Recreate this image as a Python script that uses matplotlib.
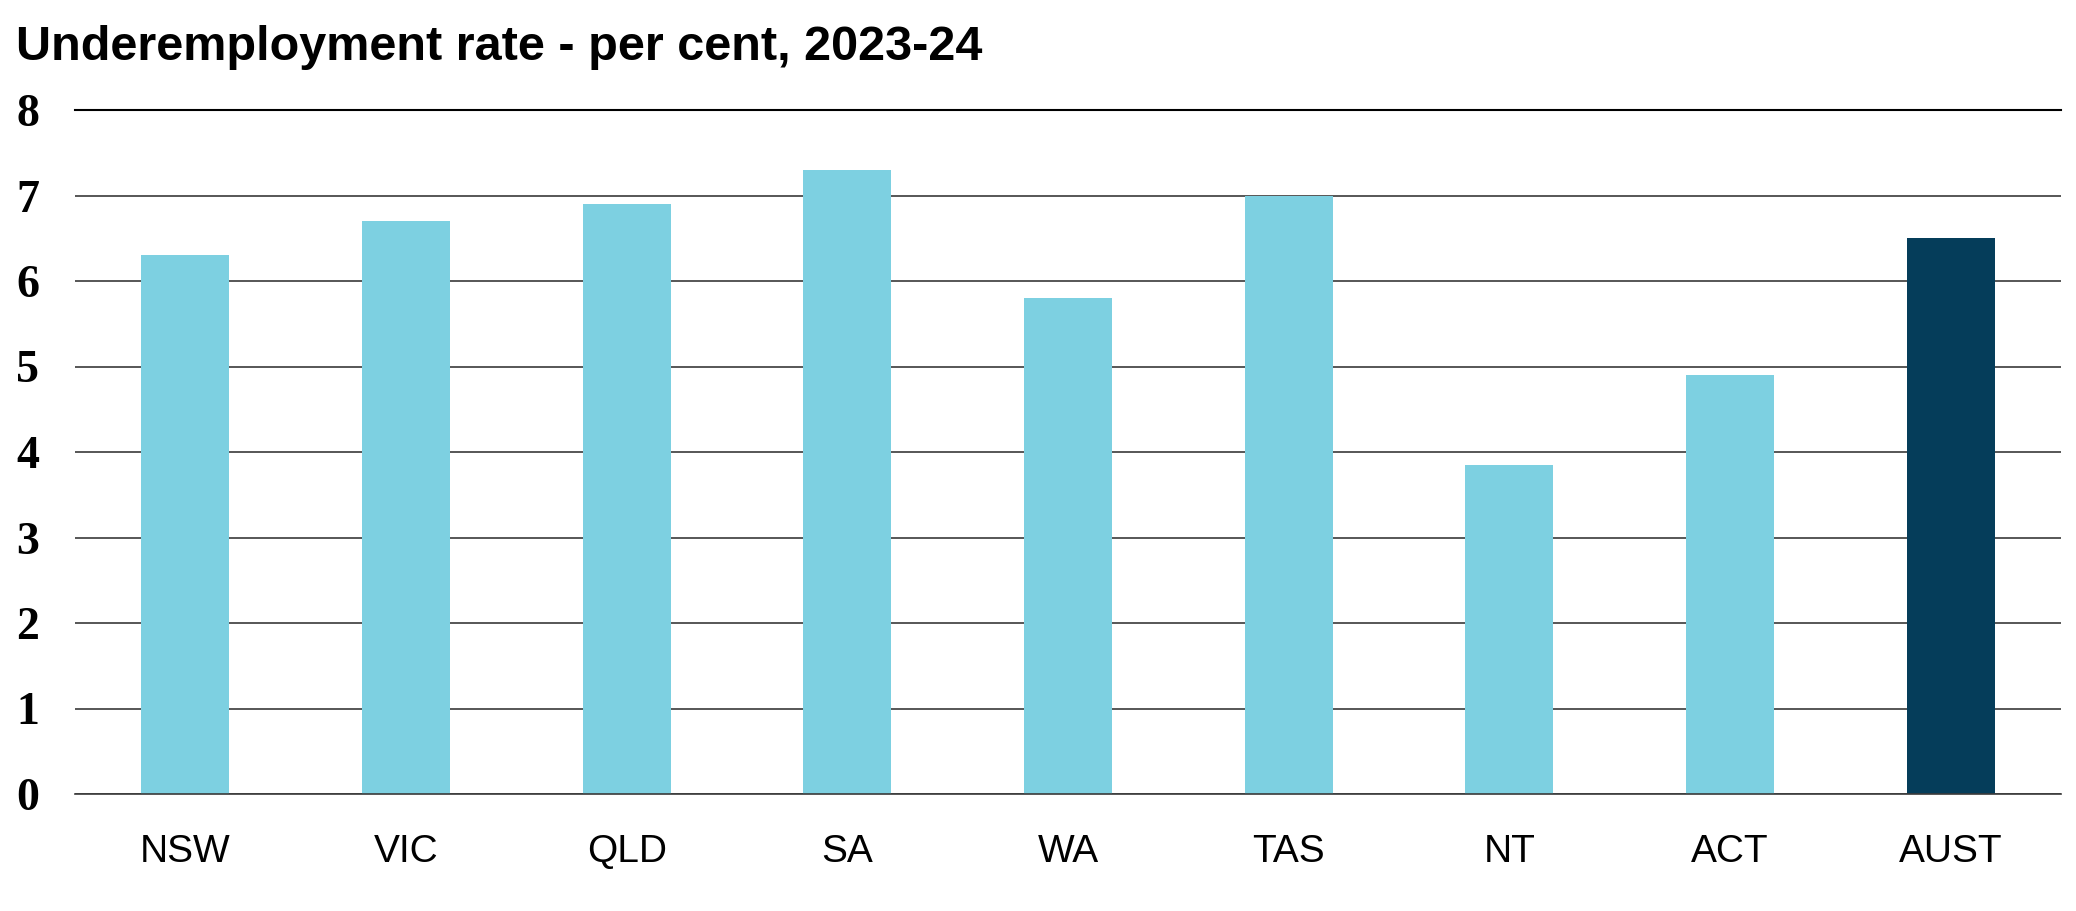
import matplotlib
matplotlib.use("Agg")
import matplotlib.pyplot as plt

categories = ["NSW", "VIC", "QLD", "SA", "WA", "TAS", "NT", "ACT", "AUST"]
values = [6.3, 6.7, 6.9, 7.3, 5.8, 7.0, 3.85, 4.9, 6.5]
colors = ["#7DD0E1"] * 8 + ["#053D5A"]
yticks = [0, 1, 2, 3, 4, 5, 6, 7, 8]
title = "Underemployment rate - per cent, 2023-24"

W, H = 2076, 911
fig = plt.figure(figsize=(W / 100, H / 100), dpi=100)
ax = fig.add_axes([75 / W, 1 - 794 / H, (2061 - 75) / W, (794 - 110) / H])

x = list(range(len(categories)))
ax.bar(x, values, width=0.4, color=colors, zorder=3)
ax.set_xlim(-0.5, len(categories) - 0.5)
ax.set_ylim(0, 8)
ax.set_yticks(yticks)
ax.set_yticklabels([str(t) for t in yticks], family="Liberation Serif",
                   fontweight="bold", fontsize=33)
ax.set_xticks(x)
ax.set_xticklabels(categories, family="Liberation Sans", fontsize=28)
ax.tick_params(axis="x", length=0, pad=29)
for t in ax.get_yticklabels():
    t.set_horizontalalignment("left")
ax.tick_params(axis="y", length=0, pad=59 * 0.72)
ax.yaxis.grid(True, color="#3a3a3a", linewidth=1.2, zorder=0)
ax.axhline(yticks[-1], color="black", linewidth=1.5, zorder=2, clip_on=False)
for s in ["top", "right", "left"]:
    ax.spines[s].set_visible(False)
ax.spines["bottom"].set_color("#3a3a3a")
ax.spines["bottom"].set_linewidth(1.2)
ax.spines["bottom"].set_zorder(4)

fig.text(16 / W, 1 - 60 / H, title, family="Liberation Sans", fontweight="bold",
         fontsize=35, ha="left", va="baseline")

fig.savefig("out.png", dpi=100, facecolor="white")
